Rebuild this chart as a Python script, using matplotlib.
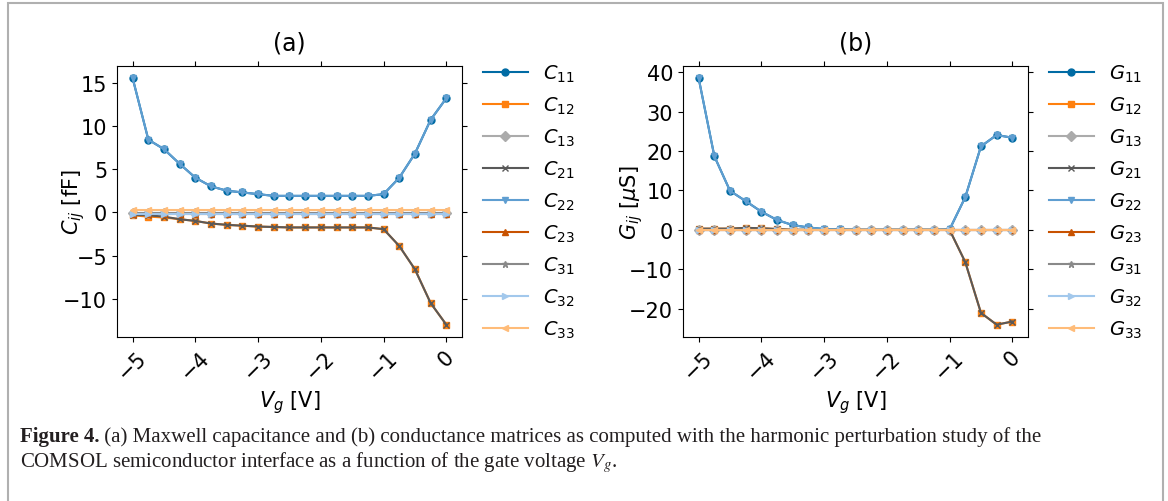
import matplotlib.pyplot as plt
from matplotlib.patches import Rectangle

# Gate voltage grid (V)
vg = [-5.0, -4.75, -4.5, -4.25, -4.0, -3.75, -3.5, -3.25, -3.0, -2.75, -2.5,
      -2.25, -2.0, -1.75, -1.5, -1.25, -1.0, -0.75, -0.5, -0.25, 0.0]

# Maxwell capacitance matrix entries (fF)
c11 = [15.5, 8.4, 7.3, 5.6, 4.0, 3.0, 2.5, 2.3, 2.1, 1.9, 1.9,
       1.9, 1.9, 1.9, 1.9, 1.9, 2.1, 4.0, 6.8, 10.7, 13.2]
c12 = [-0.35, -0.5, -0.6, -0.8, -1.0, -1.3, -1.45, -1.55, -1.65, -1.7, -1.75,
       -1.75, -1.75, -1.75, -1.75, -1.75, -1.95, -3.9, -6.6, -10.5, -13.0]
c13 = [-0.1] * 21
c21 = [-0.3, -0.35, -0.5, -0.8, -1.0, -1.3, -1.45, -1.55, -1.65, -1.7, -1.75,
       -1.75, -1.75, -1.75, -1.75, -1.75, -1.95, -3.9, -6.6, -10.5, -13.0]
c22 = c11
c23 = [-0.25] * 21
c31 = [-0.1] * 21
c32 = [-0.15] * 21
c33 = [0.3] * 21

# Conductance matrix entries (uS)
g11 = [38.5, 18.7, 9.9, 7.3, 4.6, 2.5, 1.2, 0.6, 0.2, 0.1, 0.0,
       0.0, 0.0, 0.0, 0.0, 0.0, 0.1, 8.3, 21.2, 24.1, 23.4]
g12 = [0.3, 0.3, 0.3, 0.5, 0.4, 0.2, 0.0, 0.0, 0.0, 0.0, 0.0,
       0.0, 0.0, 0.0, 0.0, 0.0, 0.0, -8.2, -21.1, -24.1, -23.3]
g13 = [0.0] * 21
g21 = g12
g22 = g11
g23 = [0.0] * 21
g31 = [0.0] * 21
g32 = [0.0] * 21
g33 = [-0.1] * 21

colors = ['#006BA4', '#FF800E', '#ABABAB', '#595959', '#5F9ED1',
          '#C85200', '#898989', '#A2C8EC', '#FFBC79']
markers = ['o', 's', 'D', 'x', 'v', '^', '*', '>', '<']
idx = ['11', '12', '13', '21', '22', '23', '31', '32', '33']

fig = plt.figure(figsize=(11.68, 5.02), dpi=100)
W, H = 1168, 502


def panel(left, series, sym, unit, title, yticks, ylab_x):
    ax = fig.add_axes([left / W, (H - 338) / H, 345 / W, 271 / H])
    for s, c, m, k in zip(series, colors, markers, idx):
        ax.plot(vg, s, color=c, marker=m, ms=5, lw=1.5,
                label='$%s_{%s}$' % (sym, k))
    ax.set_title(title, fontsize=17, pad=12)
    ax.set_xlabel('$V_g$ [V]', fontsize=15)
    ax.set_ylabel('$%s_{ij}$ [%s]' % (sym, unit), fontsize=15)
    ax.yaxis.set_label_coords(ylab_x, 0.5)
    ax.set_xticks([-5, -4, -3, -2, -1, 0])
    ax.set_yticks(yticks)
    ax.tick_params(labelsize=15, top=True, right=True)
    plt.setp(ax.get_xticklabels(), rotation=45)
    ax.legend(loc='center left', bbox_to_anchor=(1.01, 0.5), frameon=False,
              fontsize=14, labelspacing=0.55, handlelength=2.3,
              handletextpad=0.8)
    return ax


panel(117, [c11, c12, c13, c21, c22, c23, c31, c32, c33], 'C', 'fF', '(a)',
      [-10, -5, 0, 5, 10, 15], -0.088)
panel(683, [g11, g12, g13, g21, g22, g23, g31, g32, g33], 'G', r'$\mu$S', '(b)',
      [-20, -10, 0, 10, 20, 30, 40], -0.11)

# caption
cap_kw = dict(family='Liberation Serif', fontsize=15, color='#231f20',
              va='center')
t1 = fig.text(20 / W, 1 - 437 / H, 'Figure 4.', weight='bold', **cap_kw)
fig.canvas.draw()
bb = t1.get_window_extent()
fig.text(bb.x1 / W, 1 - 437 / H, ' (a) Maxwell capacitance and (b) conductance '
         'matrices as computed with the harmonic perturbation study of the',
         **cap_kw)
fig.text(20 / W, 1 - 463 / H, 'COMSOL semiconductor interface as a function '
         'of the gate voltage $V_g$.', math_fontfamily='stix', **cap_kw)

# light frame around the figure
fig.patches.append(Rectangle((8 / W, -0.05), (1163 - 8) / W, 1.05 - 4 / H,
                             transform=fig.transFigure, fill=False,
                             ec='#b0b0b0', lw=1.5))

fig.savefig('out.png', dpi=100)
